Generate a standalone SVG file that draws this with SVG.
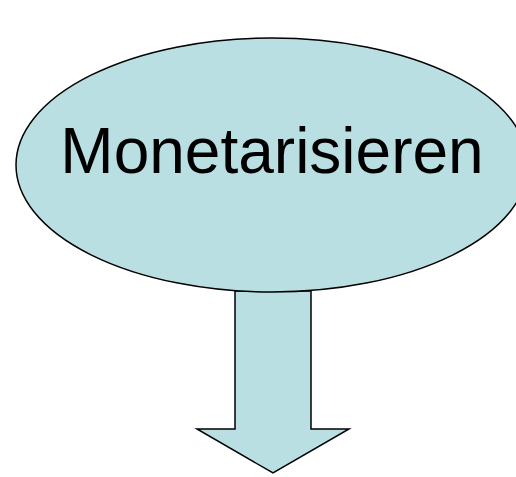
<svg xmlns="http://www.w3.org/2000/svg" width="516" height="477" viewBox="0 0 516 477">
<style>
.shape{fill:#B9DFE3;stroke:#000;stroke-width:1.5;stroke-linejoin:miter}
.label{font-family:"Liberation Sans",Arial,sans-serif;font-size:64px;fill:#000;text-anchor:middle}
</style>
<rect width="516" height="477" fill="#fff"/>
<g id="connectors">
<polygon class="shape" points="235,291 311,291 311,429 349,429 273,473 197,429 235,429"/>
</g>
<g id="node-monetarisieren">
<ellipse class="shape" cx="272" cy="165" rx="256" ry="127"/>
<text class="label" x="272" y="173">Monetarisieren</text>
</g>
</svg>
